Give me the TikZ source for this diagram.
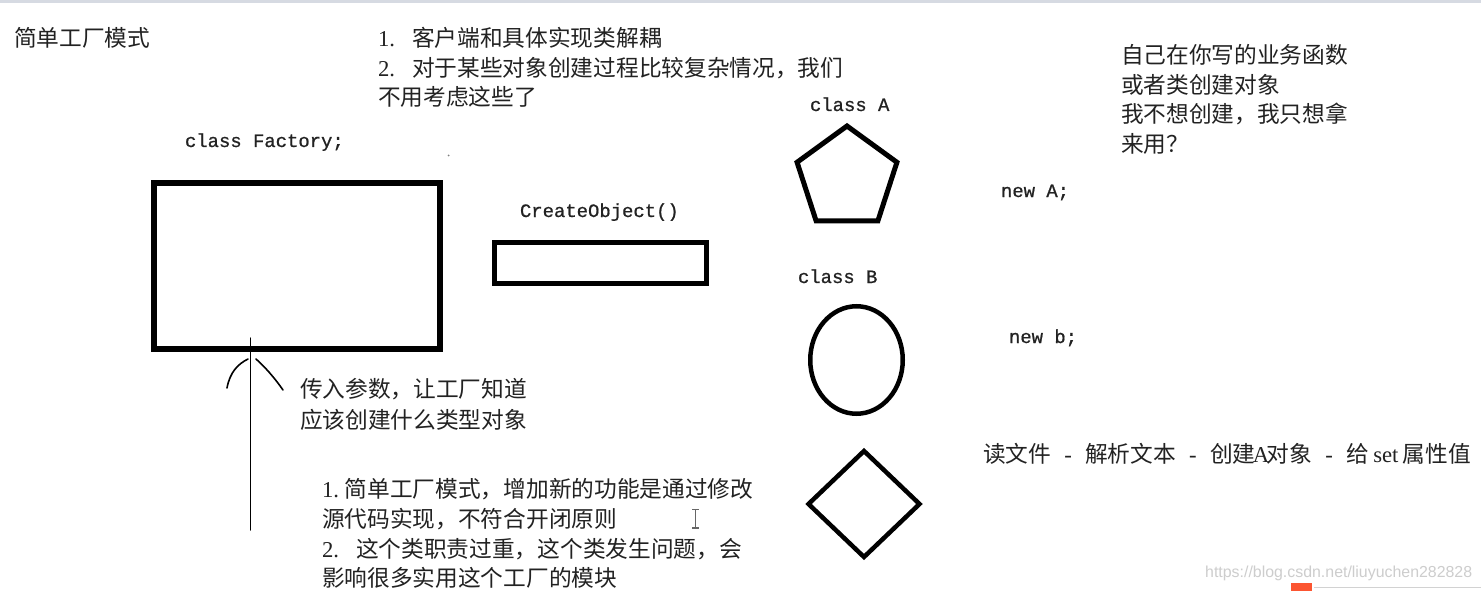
\documentclass[tikz,border=0pt]{standalone}
\usepackage{fontspec}
\setmainfont{Liberation Serif}
\newfontfamily\cjkfont{Noto Sans CJK SC}
\newfontfamily\monofont[FakeBold=0.8]{Liberation Mono}
\newfontfamily\wmfont{Liberation Sans}
\usetikzlibrary{shapes.geometric}
\definecolor{txt}{RGB}{34,34,34}
\definecolor{wmgray}{RGB}{205,205,205}
\definecolor{topbar}{RGB}{214,218,226}
\definecolor{csdnorange}{RGB}{252,85,49}
\newcommand\hb[2]{\makebox[#1em]{\rmfamily #2}}
\tikzset{
  zh/.style={font=\cjkfont\fontsize{22.7}{29.5}\selectfont, anchor=base west, inner sep=0pt, outer sep=0pt, text=txt},
  mono/.style={font=\monofont\fontsize{18.9}{22}\selectfont, anchor=base west, inner sep=0pt, outer sep=0pt, text=txt},
  boxshape/.style={draw=black, line width=#1, inner sep=0pt, outer sep=0pt, line join=miter},
  boxshape/.default=6pt,
  penline/.style={draw=black, line width=1.6pt, line cap=round}
}
\begin{document}
\begin{tikzpicture}[x=1pt,y=-1pt]
\useasboundingbox (0,0) rectangle (1481,591);
\fill[white] (0,0) rectangle (1481,591);
\fill[topbar] (0,0) rectangle (1481,3);

% title and top notes
\node[zh] (title) at (14,47) {简单工厂模式};
\node[zh] (p1) at (378,47) {\makebox[1.5em][l]{\rmfamily 1.}客户端和具体实现类解耦};
\node[zh] (p2) at (378,77) {\makebox[1.5em][l]{\rmfamily 2.}对于某些对象创建过程比较复杂情况，我们};
\node[zh] (p3) at (378,106) {不用考虑这些了};

% factory
\node[mono] (faclbl) at (185,147) {class Factory;};
\node[boxshape=6pt, minimum width=286.5pt, minimum height=166pt] (factory) at (296.75,266) {};
\fill[gray] (448.5,155.5) circle (1pt);

% create object
\node[mono] (createlbl) at (520,217) {CreateObject()};
\node[boxshape=5pt, minimum width=212.5pt, minimum height=41pt] (create) at (600.25,263) {};

% classes
\node[mono] (clsA) at (810,111) {class A};
\node[boxshape=5pt, shape=regular polygon, regular polygon sides=5, minimum size=105pt] (pentA) at (847,178.5) {};
\node[mono] (clsB) at (798,283) {class B};
\node[boxshape=4.5pt, shape=ellipse, minimum width=92.5pt, minimum height=107.5pt] (ellB) at (856.5,360) {};
\node[boxshape=4.5pt, shape=diamond, minimum width=111pt, minimum height=106pt] (diaC) at (864,504) {};

\node[mono] (newA) at (1001,197) {new A;};
\node[mono] (newb) at (1009,343) {new b;};

% right notes
\node[zh] (q1) at (1121,64) {自己在你写的业务函数};
\node[zh] (q2) at (1121,93.5) {或者类创建对象};
\node[zh] (q3) at (1121,123) {我不想创建，我只想拿};
\node[zh] (q4) at (1121,152.5) {来用？};

% parameter arrow
\coordinate (argfoot) at (250.5,530);
\coordinate (argtip) at (250.5,338);
\draw[penline, line width=1.5pt] (argfoot) -- (argtip);
\draw[penline] (227,388) .. controls (230,372) and (238,364) .. (248,359);
\draw[penline] (256,359) .. controls (264,366) and (274,377) .. (283,390);
\node[zh] (param1) at (300,397.5) {传入参数，让工厂知道};
\node[zh] (param2) at (300,428) {应该创建什么类型对象};

% bottom notes
\node[zh] (n1) at (322,497) {\makebox[1em][l]{\rmfamily 1.}简单工厂模式，增加新的功能是通过修改};
\node[zh] (n2) at (322,527) {源代码实现，不符合开闭原则};
\node[zh] (n3) at (322,557) {\makebox[1.5em][l]{\rmfamily 2.}这个类职责过重，这个类发生问题，会};
\node[zh] (n4) at (322,586) {影响很多实用这个工厂的模块};

% text cursor
\draw[gray!80!black, line width=1.2pt] (692,509.5) -- (698.5,509.5) (692,528) -- (698.5,528) (695.2,509.5) -- (695.2,528);

% flow
\node[zh] (flow) at (983,462) {读文件\hb{1.5}{-}解析文本\hb{1.5}{-}创建\hb{.5}{A}对象\hb{1.5}{-}给\hb{1.5}{set}属性值};

% watermark
\node[font=\wmfont\fontsize{15.9}{18}\selectfont, text=wmgray, anchor=base west, inner sep=0pt] (wm) at (1205,577) {https://blog.csdn.net/liuyuchen282828};
\fill[csdnorange] (1291,583) rectangle (1312,591);
\draw[gray!35, line width=1pt] (1314,587.5) -- (1481,587.5);
\end{tikzpicture}
\end{document}
